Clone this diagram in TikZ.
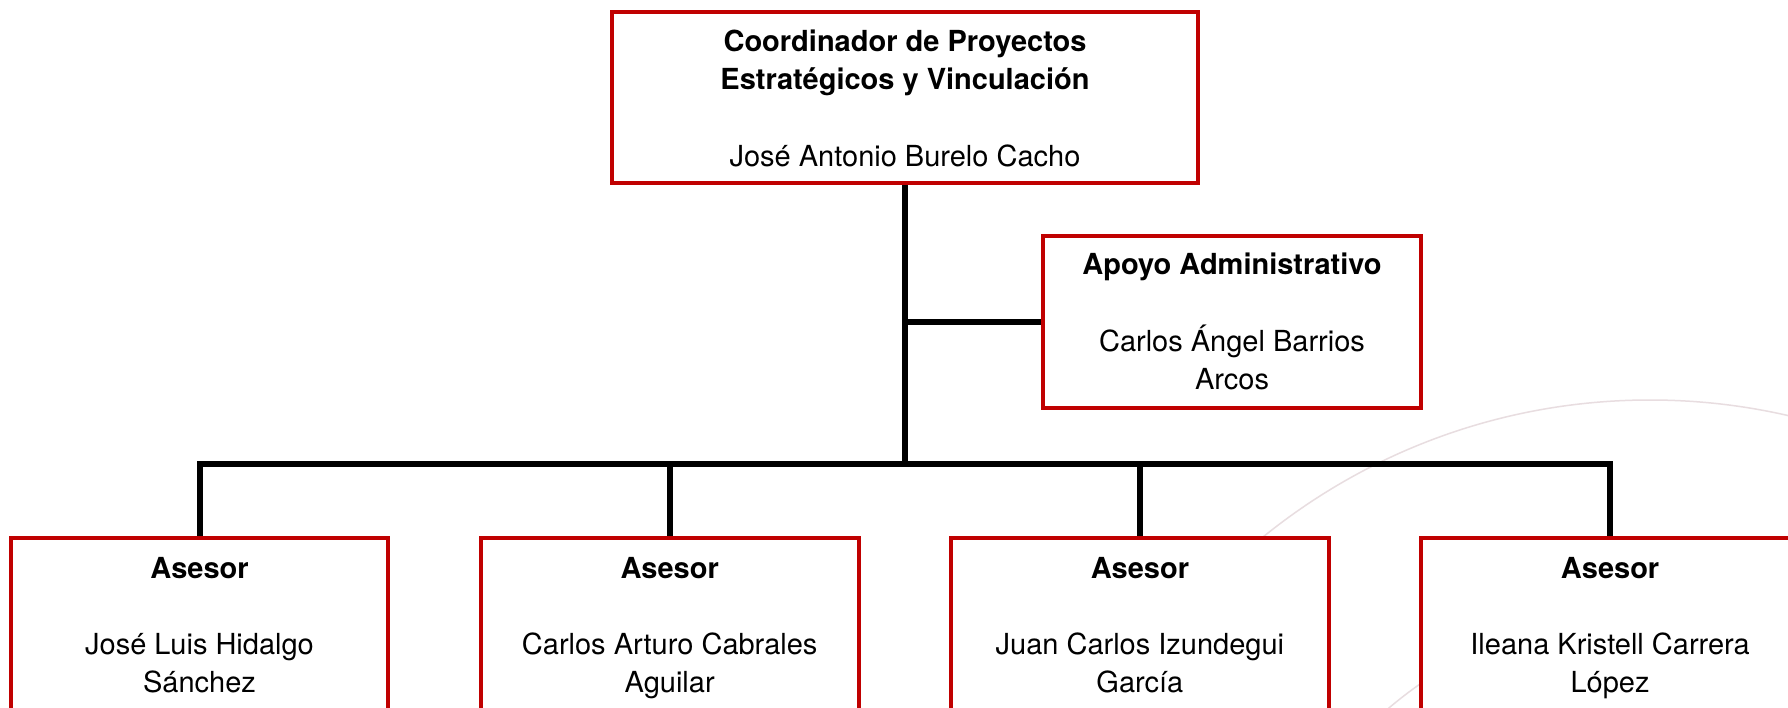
\documentclass[tikz,border=0pt]{standalone}
\usepackage{fontspec}
\setmainfont{TeX Gyre Heros}
\pgfdeclarelayer{back}
\pgfdeclarelayer{deco}
\pgfsetlayers{deco,back,main}
\definecolor{boxred}{HTML}{C00000}
\definecolor{decogray}{HTML}{E8DDE0}
\begin{document}
\begin{tikzpicture}[x=1pt,y=-1pt,
  orgbox/.style={draw=boxred,line width=4pt,fill=white,align=center,
    inner xsep=4pt,inner ysep=0pt,outer sep=0pt,anchor=north,
    font=\fontsize{29}{38.3}\selectfont},
  link/.style={line width=6pt,black,line join=miter},
  deco/.style={draw=decogray,line width=1.5pt}]
\useasboundingbox (0,0) rectangle (1788,708);

\node[orgbox,minimum width=586pt] (coord) at (905,11.7)
  {\rule{0pt}{40pt}\textbf{Coordinador de Proyectos}\\
   \textbf{Estratégicos y Vinculación}\\[38.3pt]
   José Antonio Burelo Cacho\rule[-16pt]{0pt}{16pt}};

\node[orgbox,minimum width=378pt] (apoyo) at (1232,236)
  {\rule{0pt}{39pt}\textbf{Apoyo Administrativo}\\[38.3pt]
   Carlos Ángel Barrios\\ Arcos\rule[-18pt]{0pt}{18pt}};

\node[orgbox,minimum width=377.6pt] (a1) at (199.5,538)
  {\rule{0pt}{40pt}\textbf{Asesor}\\[38.3pt]
   José Luis Hidalgo\\ Sánchez\rule[-30pt]{0pt}{30pt}};
\node[orgbox,minimum width=377.6pt] (a2) at (669.7,538)
  {\rule{0pt}{40pt}\textbf{Asesor}\\[38.3pt]
   Carlos Arturo Cabrales\\ Aguilar\rule[-30pt]{0pt}{30pt}};
\node[orgbox,minimum width=377.6pt] (a3) at (1139.9,538)
  {\rule{0pt}{40pt}\textbf{Asesor}\\[38.3pt]
   Juan Carlos Izundegui\\ García\rule[-30pt]{0pt}{30pt}};
\node[orgbox,minimum width=377.6pt] (a4) at (1610.1,538)
  {\rule{0pt}{40pt}\textbf{Asesor}\\[38.3pt]
   Ileana Kristell Carrera\\ López\rule[-30pt]{0pt}{30pt}};

\begin{pgfonlayer}{deco}
  \fill[white] (0,0) rectangle (1788,708);
  \draw[deco] (1650,1015) circle[radius=615];
  \draw[deco] (1650,1015) circle[radius=403];
\end{pgfonlayer}

\begin{pgfonlayer}{back}
  \coordinate (bar) at (905,464);
  \draw[link] (a1.north) -- (a1.north |- bar) -- (a4.north |- bar) -- (a4.north);
  \draw[link] (coord.south) -- (coord.south |- bar);
  \draw[link] (a2.north) -- (a2.north |- bar);
  \draw[link] (a3.north) -- (a3.north |- bar);
  \draw[link] (apoyo.west) -- (apoyo.west -| coord.south);
\end{pgfonlayer}
\end{tikzpicture}
\end{document}
